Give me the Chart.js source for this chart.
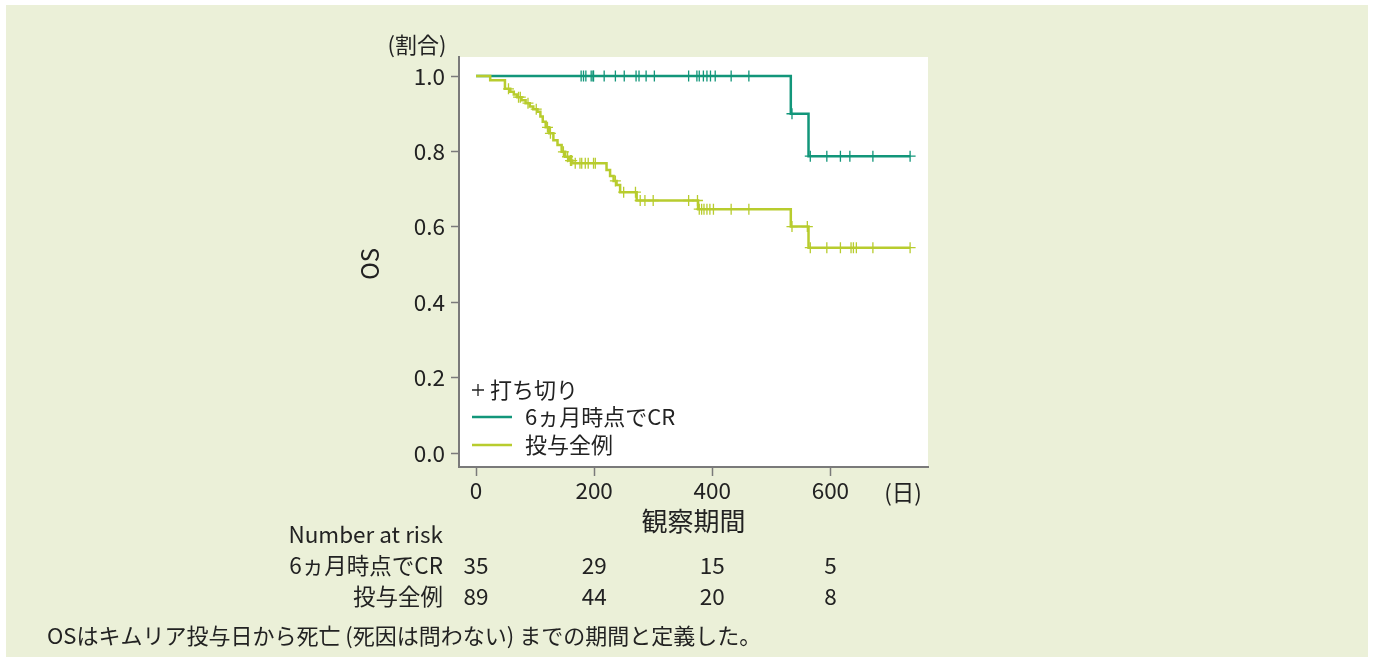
<!DOCTYPE html>
<html>
<head>
<meta charset="utf-8">
<script src="https://cdn.jsdelivr.net/npm/chart.js@4.4.0/dist/chart.umd.min.js"></script>
<style>
  html, body { margin: 0; padding: 0; background: #ffffff; }
  #wrap { position: absolute; left: 0; top: 0; width: 1375px; height: 660px; }
</style>
</head>
<body>
<div id="wrap"><canvas id="c" width="1375" height="660"></canvas></div>
<script>
// Kaplan–Meier OS curves: event times (days) and survival after each step
const crTimes = [0, 533, 563];
const crSurv  = [1.0, 0.9, 0.7875];
const crEnd   = 735;
const crCensor = [178, 182, 186, 195, 198, 199, 217, 236, 251, 271, 276, 288, 302, 360, 374, 378, 385, 391, 397, 405, 432, 462, 535, 566, 594, 617, 633, 672, 735];

const allTimes = [0, 24, 49, 58, 64, 70, 77, 84, 91, 97, 104, 109, 113, 118, 124, 131, 138, 145, 151, 157, 163, 221, 227, 233, 238, 244, 272, 376, 533, 563];
const allSurv  = [1.0, 0.989, 0.966, 0.958, 0.951, 0.944, 0.936, 0.928, 0.919, 0.912, 0.905, 0.893, 0.879, 0.864, 0.848, 0.830, 0.817, 0.799, 0.786, 0.776, 0.769, 0.751, 0.735, 0.722, 0.711, 0.692, 0.670, 0.647, 0.601, 0.545];
const allEnd   = 735;
const allCensor = [55, 72, 75, 88, 102, 121, 126, 148, 155, 160, 162, 168, 176, 179, 185, 190, 199, 202, 236, 250, 270, 278, 286, 300, 360, 375, 378, 382, 386, 391, 396, 402, 432, 462, 535, 561, 566, 594, 617, 635, 639, 644, 672, 735];

// axis ticks
const xTicks = [0, 200, 400, 600];
const yTicks = [0, 0.2, 0.4, 0.6, 0.8, 1.0];

// number at risk
const riskTimes = [0, 200, 400, 600];
const riskCR  = [35, 29, 15, 5];
const riskAll = [89, 44, 20, 8];

const groupNames = ['6ヵ月時点でCR', '投与全例'];

const TEAL = 'rgb(18,150,122)';
const LIME = 'rgb(184,204,46)';
const INK = '#222222';
const AXIS = '#7a7a7a';
const FONT = '"Noto Sans CJK JP", "Noto Sans", sans-serif';
const TXT = 22.5;

function curvePoints(times, surv, end) {
  const pts = times.map((t, i) => ({ x: t, y: surv[i] }));
  pts.push({ x: end, y: surv[surv.length - 1] });
  return pts;
}
function survAt(times, surv, t) {
  let s = surv[0];
  for (let i = 0; i < times.length; i++) if (times[i] <= t) s = surv[i];
  return s;
}
function censorPoints(times, surv, cens) {
  return cens.map(t => ({ x: t, y: survAt(times, surv, t) }));
}

Chart.defaults.font.family = FONT;
Chart.defaults.color = INK;

const backdrop = {
  id: 'backdrop',
  beforeDraw(chart) {
    const ctx = chart.ctx, a = chart.chartArea;
    ctx.save();
    ctx.fillStyle = '#ffffff';
    ctx.fillRect(0, 0, chart.width, chart.height);
    ctx.fillStyle = 'rgb(235,240,216)';
    ctx.fillRect(6, 5, 1362, 652);
    ctx.fillStyle = '#ffffff';
    ctx.fillRect(a.left, a.top, a.right - a.left, a.bottom - a.top);
    ctx.restore();
  }
};

const annotations = {
  id: 'annotations',
  afterDraw(chart) {
    const ctx = chart.ctx, a = chart.chartArea, xs = chart.scales.x;
    ctx.save();
    ctx.fillStyle = INK;
    ctx.textBaseline = 'middle';

    // unit above the y axis
    ctx.font = '22px ' + FONT;
    ctx.textAlign = 'center';
    ctx.fillText('(割合)', a.left - 42, a.top - 12);

    // y axis title
    ctx.save();
    ctx.translate(a.left - 89, 264);
    ctx.rotate(-Math.PI / 2);
    ctx.font = '24px ' + FONT;
    ctx.fillText('OS', 0, 0);
    ctx.restore();

    // x unit and title
    ctx.font = TXT + 'px ' + FONT;
    ctx.fillText('(日)', a.right - 25, a.bottom + 25);
    ctx.font = '26px ' + FONT;
    ctx.fillText('観察期間', (a.left + a.right) / 2, a.bottom + 54);

    // legend inside the plot
    const lx = a.left + 13;
    ctx.textAlign = 'left';
    ctx.font = '22px ' + FONT;
    ctx.strokeStyle = INK;
    ctx.lineWidth = 1.3;
    ctx.beginPath();
    ctx.moveTo(lx, a.bottom - 77); ctx.lineTo(lx + 12, a.bottom - 77);
    ctx.moveTo(lx + 6, a.bottom - 83); ctx.lineTo(lx + 6, a.bottom - 71);
    ctx.stroke();
    ctx.fillText('打ち切り', lx + 18, a.bottom - 77);
    ctx.lineWidth = 2.5;
    ctx.strokeStyle = TEAL;
    ctx.beginPath(); ctx.moveTo(lx, a.bottom - 50); ctx.lineTo(lx + 40, a.bottom - 50); ctx.stroke();
    ctx.strokeStyle = LIME;
    ctx.beginPath(); ctx.moveTo(lx, a.bottom - 22); ctx.lineTo(lx + 40, a.bottom - 22); ctx.stroke();
    ctx.fillText(groupNames[0], lx + 53, a.bottom - 50);
    ctx.fillText(groupNames[1], lx + 53, a.bottom - 22);

    // number at risk table
    ctx.font = TXT + 'px ' + FONT;
    ctx.textAlign = 'right';
    const labelRight = a.left - 16;
    ctx.fillText('Number at risk', labelRight, a.bottom + 67);
    ctx.fillText(groupNames[0], labelRight, a.bottom + 98);
    ctx.fillText(groupNames[1], labelRight, a.bottom + 129);
    ctx.textAlign = 'center';
    riskTimes.forEach((t, i) => {
      const px = xs.getPixelForValue(t);
      ctx.fillText(String(riskCR[i]), px, a.bottom + 98);
      ctx.fillText(String(riskAll[i]), px, a.bottom + 129);
    });

    // footnote
    ctx.textAlign = 'left';
    ctx.font = '22px ' + FONT;
    ctx.fillText('OSはキムリア投与日から死亡 (死因は問わない) までの期間と定義した。', 47, 636);
    ctx.restore();
  }
};

new Chart(document.getElementById('c'), {
  type: 'line',
  data: {
    datasets: [
      {
        label: groupNames[1] + ' censor',
        data: censorPoints(allTimes, allSurv, allCensor),
        showLine: false,
        pointStyle: 'cross',
        pointRadius: 5.5,
        pointBorderWidth: 1.3,
        borderColor: LIME,
        backgroundColor: LIME,
        order: 0
      },
      {
        label: groupNames[1],
        data: curvePoints(allTimes, allSurv, allEnd),
        stepped: true,
        borderColor: LIME,
        borderWidth: 2.5,
        pointRadius: 0,
        fill: false,
        order: 1
      },
      {
        label: groupNames[0] + ' censor',
        data: censorPoints(crTimes, crSurv, crCensor),
        showLine: false,
        pointStyle: 'cross',
        pointRadius: 5.5,
        pointBorderWidth: 1.3,
        borderColor: TEAL,
        backgroundColor: TEAL,
        order: 2
      },
      {
        label: groupNames[0],
        data: curvePoints(crTimes, crSurv, crEnd),
        stepped: true,
        borderColor: TEAL,
        borderWidth: 2.5,
        pointRadius: 0,
        fill: false,
        order: 3
      }
    ]
  },
  options: {
    responsive: false,
    animation: false,
    events: [],
    layout: { padding: { left: 399, top: 57, right: 447, bottom: 153 } },
    plugins: { legend: { display: false }, tooltip: { enabled: false } },
    scales: {
      x: {
        type: 'linear',
        min: -28.8,
        max: 765.3,
        afterBuildTicks: s => { s.ticks = xTicks.map(v => ({ value: v })); },
        afterFit: s => { s.height = 40; },
        ticks: { font: { size: TXT }, color: INK, padding: 1, callback: v => String(v) },
        grid: { drawOnChartArea: false, tickLength: 9, color: AXIS, tickColor: AXIS, tickWidth: 1.5 },
        border: { display: true, color: AXIS, width: 2 }
      },
      y: {
        type: 'linear',
        min: -0.0363,
        max: 1.0504,
        afterBuildTicks: s => { s.ticks = yTicks.map(v => ({ value: v })); },
        afterFit: s => { s.width = 60; },
        ticks: { font: { size: TXT }, color: INK, padding: 6, callback: v => v.toFixed(1) },
        grid: { drawOnChartArea: false, tickLength: 8, color: AXIS, tickColor: AXIS, tickWidth: 1.5 },
        border: { display: true, color: AXIS, width: 2 }
      }
    }
  },
  plugins: [backdrop, annotations]
});
</script>
</body>
</html>
